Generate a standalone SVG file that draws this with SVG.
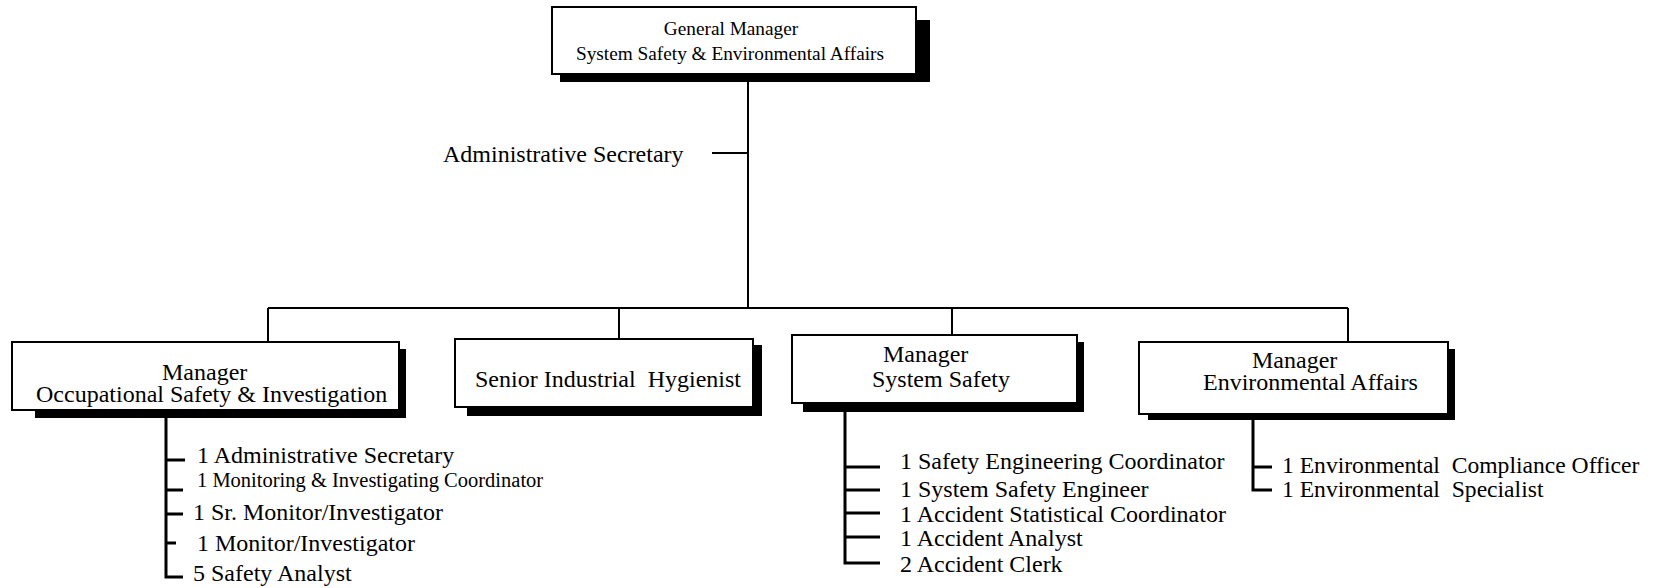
<svg xmlns="http://www.w3.org/2000/svg" width="1659" height="588" viewBox="0 0 1659 588">
<style>
text{font-family:"Liberation Serif","Times New Roman",serif;fill:#000;white-space:pre}
.t{font-size:24px}
.e{font-size:23.6px}
.g{font-size:19.3px}
.s{font-size:20.5px}
.box{fill:#fff;stroke:#000;stroke-width:2}
.sh{fill:#000}
.c{stroke:#000;stroke-width:2;fill:none}
.l{stroke:#000;stroke-width:3;fill:none}
</style>
<rect width="1659" height="588" fill="#fff"/>
<g id="connectors">
<path class="c" d="M748 74V308M712 153H748M268 308H1348M268 308V342M619 308V339M952 308V335M1348 308V342"/>
<path class="l" d="M166 418V577H183M166 460H185M166 490H183M166 514H183M166 543H176"/>
<path class="l" d="M845 412V563H880M845 467H880M845 490H880M845 513H880M845 537H880"/>
<path class="l" d="M1253 420V490H1272M1253 467H1272"/>
</g>
<g id="admin-secretary">
<text class="t" x="443" y="162">Administrative Secretary</text>
</g>
<g id="general-manager">
<rect class="sh" x="560" y="20" width="370" height="62"/>
<rect class="box" x="552" y="7" width="364" height="67"/>
<text class="g" x="731" y="35" text-anchor="middle">General Manager</text>
<text class="g" x="730" y="60" text-anchor="middle">System Safety &amp; Environmental Affairs</text>
</g>
<g id="mgr-occupational">
<rect class="sh" x="35" y="349" width="371" height="69"/>
<rect class="box" x="12" y="342" width="387" height="68"/>
<text class="t" x="162" y="380">Manager</text>
<text class="t" x="36" y="402">Occupational Safety &amp; Investigation</text>
</g>
<g id="senior-hygienist">
<rect class="sh" x="467" y="345" width="295" height="71"/>
<rect class="box" x="455" y="339" width="298" height="68"/>
<text class="t" x="475" y="387">Senior Industrial  Hygienist</text>
</g>
<g id="mgr-system-safety">
<rect class="sh" x="803" y="342" width="281" height="70"/>
<rect class="box" x="792" y="335" width="285" height="68"/>
<text class="t" x="883" y="362">Manager</text>
<text class="t" x="872" y="387">System Safety</text>
</g>
<g id="mgr-environmental">
<rect class="sh" x="1148" y="349" width="307" height="71"/>
<rect class="box" x="1139" y="342" width="309" height="72"/>
<text class="t" x="1252" y="368">Manager</text>
<text class="t" x="1203" y="390">Environmental Affairs</text>
</g>
<g id="occupational-staff">
<text class="t" x="197" y="463">1 Administrative Secretary</text>
<text class="s" x="197" y="487">1 Monitoring &amp; Investigating Coordinator</text>
<text class="t" x="193" y="520">1 Sr. Monitor/Investigator</text>
<text class="t" x="197" y="551">1 Monitor/Investigator</text>
<text class="t" x="193" y="581">5 Safety Analyst</text>
</g>
<g id="system-safety-staff">
<text class="t" x="900" y="469">1 Safety Engineering Coordinator</text>
<text class="t" x="900" y="497">1 System Safety Engineer</text>
<text class="t" x="900" y="522">1 Accident Statistical Coordinator</text>
<text class="t" x="900" y="546">1 Accident Analyst</text>
<text class="t" x="900" y="572">2 Accident Clerk</text>
</g>
<g id="environmental-staff">
<text class="e" x="1282" y="473">1 Environmental  Compliance Officer</text>
<text class="e" x="1282" y="497">1 Environmental  Specialist</text>
</g>
</svg>
